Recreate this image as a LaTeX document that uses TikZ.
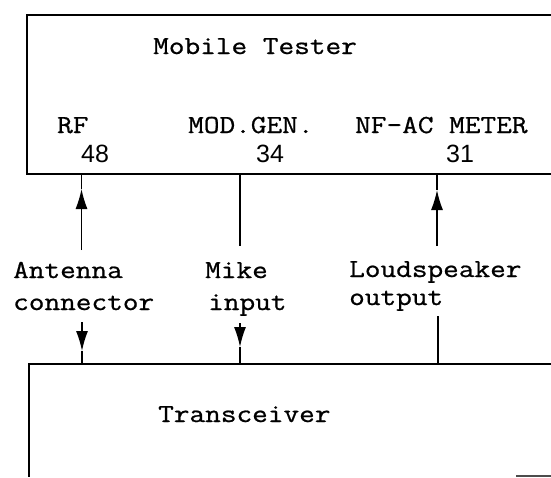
\documentclass[tikz,border=0pt]{standalone}
\usepackage{fontspec}
\newfontfamily\tw{Latin Modern Mono}[FakeStretch=1.17,FakeBold=0.8]
\newfontfamily\numf{Liberation Sans}
\usetikzlibrary{arrows.meta}
\begin{document}
\begin{tikzpicture}[x=1pt,y=-1pt,
  lbl/.style={font=\tw\fontsize{26}{32}\selectfont, inner sep=0pt, anchor=base west},
  num/.style={font=\numf\fontsize{25}{30}\selectfont, inner sep=0pt, anchor=base west},
  boxline/.style={line width=1.6pt},
  wire/.style={line width=1.3pt},
  arr/.style={wire,-{Latex[length=20pt,width=12pt]}}]
\useasboundingbox (0,0) rectangle (551,477);
% boxes
\draw[boxline] (551,15) -- (27,15) -- (27,174) -- (551,174);
\draw[boxline] (551,364) -- (29,364) -- (29,477);
\draw[line width=1.2pt, black!70] (516,476) -- (551,476);
% texts in Mobile Tester
\node[lbl] (mt) at (153,54) {Mobile Tester};
\node[lbl] (rf) at (57,133) {RF};
\node[lbl] (mod) at (188,133) {MOD.GEN.};
\node[lbl] (nf) at (355,133) {NF-AC METER};
\node[num] (n48) at (81,162) {48};
\node[num] (n34) at (256,162) {34};
\node[num] (n31) at (446,162) {31};
% middle labels
\node[lbl] (ant1) at (13,278) {Antenna};
\node[lbl] (ant2) at (13,310) {connector};
\node[lbl] (mike1) at (205,278) {Mike};
\node[lbl] (mike2) at (208,310) {input};
\node[lbl] (ls1) at (349,277) {Loudspeaker};
\node[lbl] (ls2) at (349,305) {output};
% Transceiver
\node[lbl] (tr) at (158,422) {Transceiver};
% connector coordinates
\coordinate (rfTop) at (81.5,174);
\coordinate (rfTip) at (81.5,189);
\coordinate (rfBot) at (81.5,250);
\coordinate (modTop) at (240,174);
\coordinate (modBot) at (240,246);
\coordinate (nfTop) at (437,174);
\coordinate (nfTip) at (437,190);
\coordinate (nfBot) at (437,246);
\coordinate (antTop) at (82,322);
\coordinate (antTip) at (82,351);
\coordinate (antBot) at (82,364);
\coordinate (mikeTop) at (240,323);
\coordinate (mikeTip) at (240,347);
\coordinate (mikeBot) at (240,364);
\coordinate (lsTop) at (438,316);
\coordinate (lsBot) at (438,364);
% connectors
\draw[arr] (rfBot) -- (rfTip);
\draw[wire] (rfTip) -- (rfTop);
\draw[wire] (modTop) -- (modBot);
\draw[arr] (nfBot) -- (nfTip);
\draw[wire] (nfTip) -- (nfTop);
\draw[arr] (antTop) -- (antTip);
\draw[wire] (antTip) -- (antBot);
\draw[arr] (mikeTop) -- (mikeTip);
\draw[wire] (mikeTip) -- (mikeBot);
\draw[wire] (lsTop) -- (lsBot);
\end{tikzpicture}
\end{document}
